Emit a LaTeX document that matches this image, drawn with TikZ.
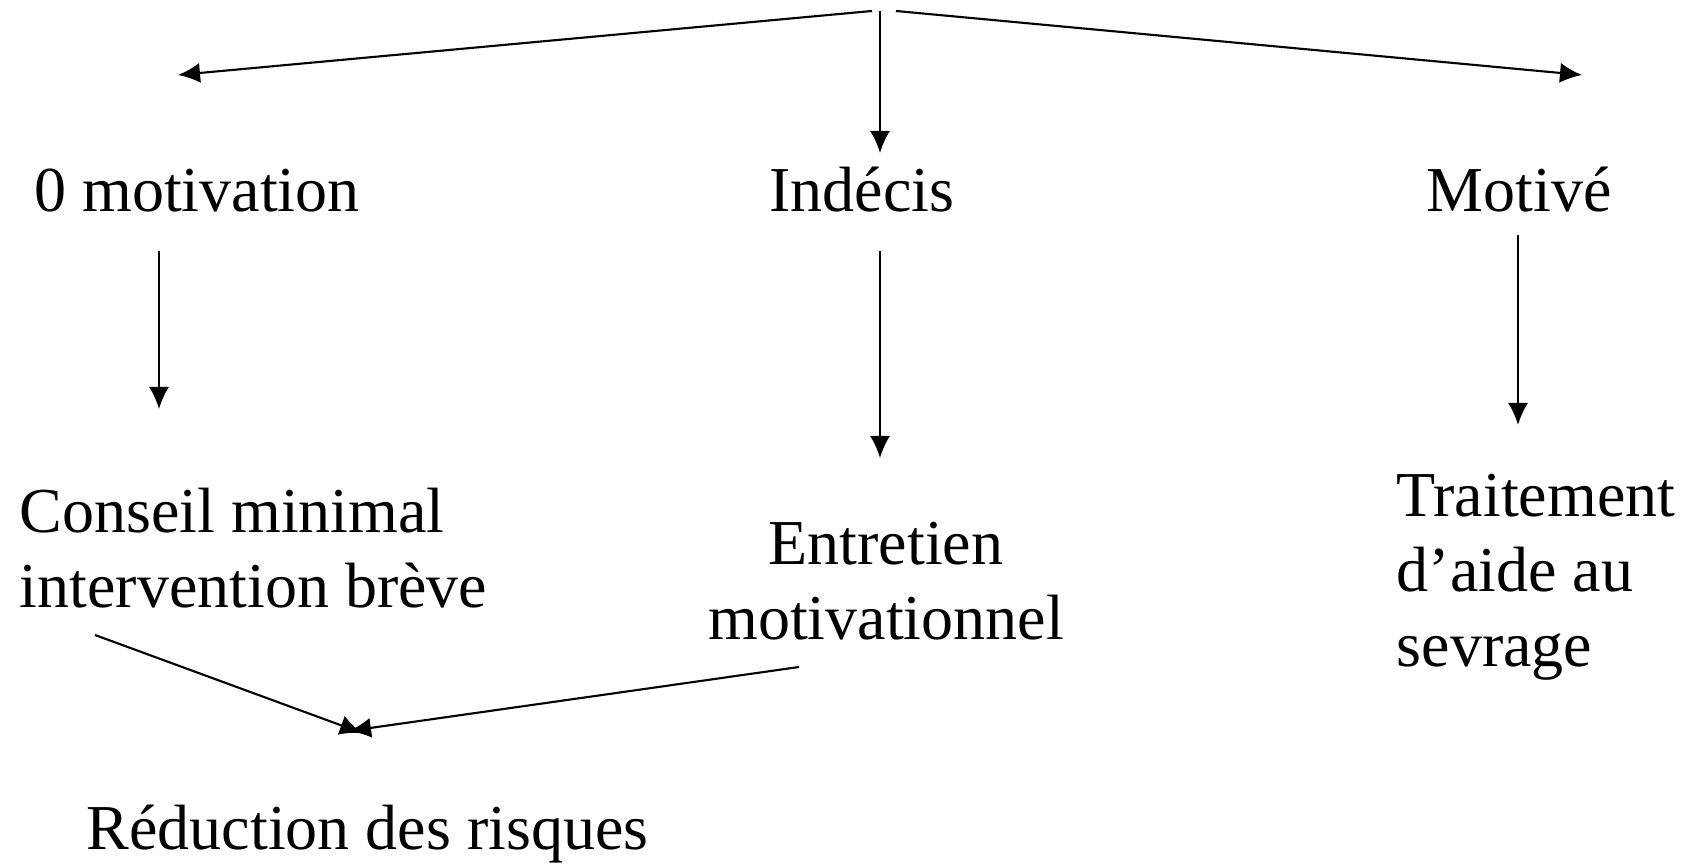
\documentclass[tikz,border=0pt]{standalone}
\usepackage{fontspec}
\setmainfont{Liberation Serif}
\usetikzlibrary{arrows.meta}
\tikzset{
	fleche/.style={-{Latex[length=2.2mm,width=2mm]}, line width=0.6pt},
	txt/.style={inner sep=0pt, font=\fontsize{18.2}{21.4}\selectfont},
}
\begin{document}
\begin{tikzpicture}[x=0.01cm,y=-0.01cm]
	\useasboundingbox (0,0) rectangle (1688,865);
	\coordinate (t0) at (872,11);
	\coordinate (t1) at (880,11);
	\coordinate (t2) at (896,11);
	\coordinate (h0) at (178,75);
	\coordinate (h1) at (880,153);
	\coordinate (h2) at (1582,75);
	%
	\coordinate (a0) at (159,251);
	\coordinate (a1) at (880,251);
	\coordinate (a2) at (1518,235);
	\coordinate (b0) at (159,409);
	\coordinate (b1) at (880,458);
	\coordinate (b2) at (1518,425);
	%
	\coordinate (c0) at (95,635);
	\coordinate (c1) at (799,667);
	\coordinate (r0) at (362,733);
	\coordinate (r1) at (349,731);
	%
	\node[txt, anchor=base] (m0) at (197,212) {0 motivation};
	\node[txt, anchor=base] (m1) at (862,212) {Indécis};
	\node[txt, anchor=base] (m2) at (1519,212) {Motivé};
	\node[txt, anchor=base west, align=left] (s0) at (19,608) {Conseil minimal\\intervention brève};
	\node[txt, anchor=base, align=center] (s1) at (886,640) {Entretien\\motivationnel};
	\node[txt, anchor=base west, align=left] (s2) at (1396,667) {Traitement\\d’aide au\\sevrage};
	\node[txt, anchor=base west] (red) at (86,850) {Réduction des risques};
	%
	\foreach \i in {0,1,2}{
			\draw[fleche] (t\i) -- (h\i);
			\draw[fleche] (a\i) -- (b\i);
		}
	\draw[fleche] (c0) -- (r0);
	\draw[fleche] (c1) -- (r1);
\end{tikzpicture}
\end{document}
